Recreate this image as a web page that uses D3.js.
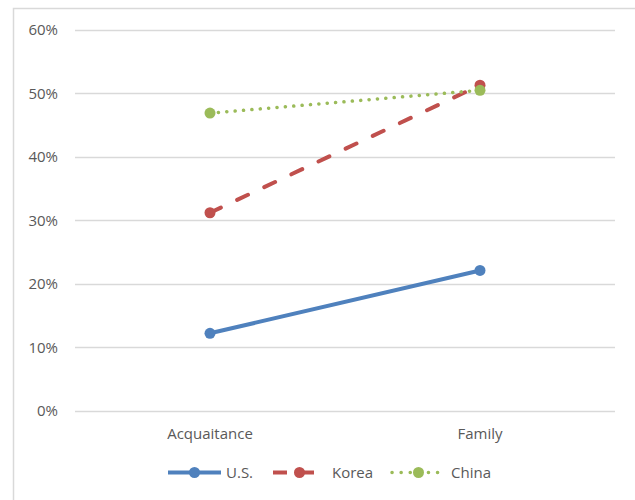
<!DOCTYPE html>
<html>
<head>
<meta charset="utf-8">
<script src="https://cdn.jsdelivr.net/npm/d3@7"></script>
<style>
  html, body { margin: 0; padding: 0; background: #fff; }
  svg { display: block; }
</style>
</head>
<body>
<svg id="chart" width="635" height="500"></svg>
<script>
// Share of respondents by relationship type
const categories = ["Acquaitance", "Family"];
const usValues = [0.122, 0.221];
const koreaValues = [0.312, 0.513];
const chinaValues = [0.469, 0.505];
const seriesNames = ["U.S.", "Korea", "China"];
const yTicks = [0, 0.1, 0.2, 0.3, 0.4, 0.5, 0.6];

const series = [
  { name: seriesNames[0], values: usValues, color: "#4F81BD", dash: null, width: 4 },
  { name: seriesNames[1], values: koreaValues, color: "#C0504D", dash: "12 18", width: 4 },
  { name: seriesNames[2], values: chinaValues, color: "#9BBB59", dash: "0.1 8.3", width: 3.5 }
];

const svg = d3.select("#chart");
const font = "'Open Sans', 'Liberation Sans', sans-serif";
const fontSize = "15px";
const textColor = "#595959";

// chart area border (top and left edges visible)
svg.append("path")
  .attr("d", "M13.5,500 L13.5,8.5 L635,8.5")
  .attr("fill", "none")
  .attr("stroke", "#D9D9D9")
  .attr("stroke-width", 1.5);

const plot = { left: 75, right: 615, top: 30, bottom: 410.7 };

const x = d3.scaleBand().domain(categories).range([plot.left, plot.right]);
const y = d3.scaleLinear().domain([0, 0.6]).range([plot.bottom, plot.top]);

// gridlines
svg.append("g")
  .selectAll("line")
  .data(yTicks)
  .join("line")
  .attr("x1", plot.left)
  .attr("x2", plot.right)
  .attr("y1", d => Math.round(y(d)) + 0.5)
  .attr("y2", d => Math.round(y(d)) + 0.5)
  .attr("stroke", "#D9D9D9")
  .attr("stroke-width", 1.3);

// y axis labels
const yAxis = d3.axisLeft(y).tickValues(yTicks).tickFormat(d3.format(".0%")).tickSize(0).tickPadding(0);
const yg = svg.append("g").attr("transform", `translate(58,0)`).call(yAxis);
yg.select(".domain").remove();
yg.selectAll("text")
  .attr("fill", textColor)
  .style("font-family", font)
  .style("font-size", fontSize);

// x axis labels
const xAxis = d3.axisBottom(x).tickSize(0).tickPadding(0);
const xg = svg.append("g").attr("transform", `translate(0,428)`).call(xAxis);
xg.select(".domain").remove();
xg.selectAll("text")
  .attr("fill", textColor)
  .style("font-family", font)
  .style("font-size", fontSize);

const cx = c => x(c) + x.bandwidth() / 2;

const line = d3.line()
  .x((d, i) => cx(categories[i]))
  .y(d => y(d));

// series lines and markers
series.forEach(s => {
  svg.append("path")
    .datum(s.values)
    .attr("d", line)
    .attr("fill", "none")
    .attr("stroke", s.color)
    .attr("stroke-width", s.width)
    .attr("stroke-linecap", "round")
    .attr("stroke-dasharray", s.dash);
});
series.forEach(s => {
  svg.append("g")
    .selectAll("circle")
    .data(s.values)
    .join("circle")
    .attr("cx", (d, i) => cx(categories[i]))
    .attr("cy", d => y(d))
    .attr("r", 5.5)
    .attr("fill", s.color);
});

// legend
const legendY = 472.5;
const legendX = [168, 273, 392];
const legend = svg.append("g");
series.forEach((s, i) => {
  const g = legend.append("g").attr("transform", `translate(${legendX[i]},${legendY})`);
  g.append("line")
    .attr("x1", 0).attr("x2", 53)
    .attr("y1", 0).attr("y2", 0)
    .attr("stroke", s.color)
    .attr("stroke-width", s.width)
    .attr("stroke-linecap", i === 2 ? "round" : "butt")
    .attr("stroke-dasharray", i === 1 ? "14 13" : (i === 2 ? "0.1 9" : null));
  g.append("circle")
    .attr("cx", 26.5).attr("cy", 0).attr("r", 5.5)
    .attr("fill", s.color);
  g.append("text")
    .attr("x", i === 0 ? 58 : 59)
    .attr("y", 0)
    .attr("dy", "0.35em")
    .attr("fill", textColor)
    .style("font-family", font)
    .style("font-size", fontSize)
    .text(s.name);
});
</script>
</body>
</html>
